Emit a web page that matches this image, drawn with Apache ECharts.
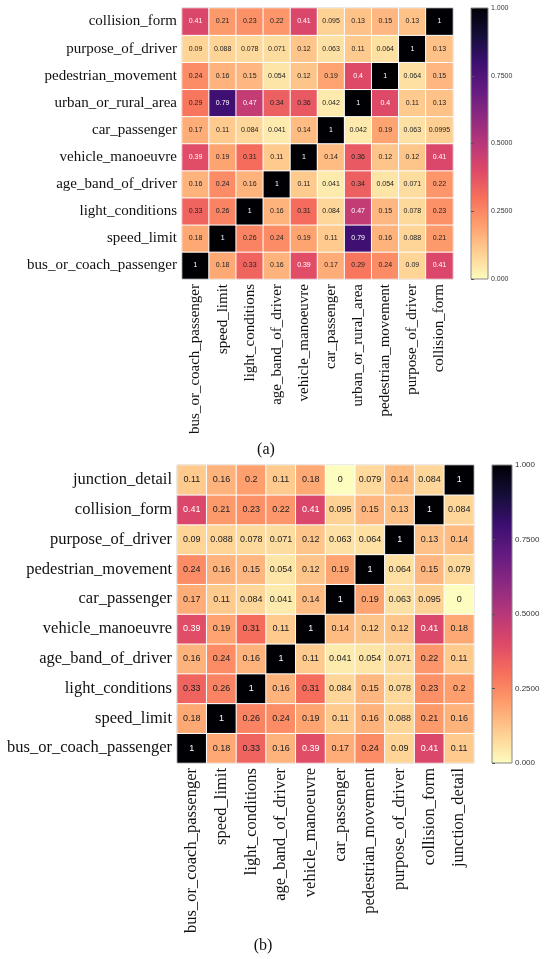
<!DOCTYPE html>
<html>
<head>
<meta charset="utf-8">
<script src="https://cdn.jsdelivr.net/npm/echarts@6/dist/echarts.min.js"></script>
<style>
  html, body { margin: 0; padding: 0; background: #fff; }
  #main { width: 550px; height: 959px; }
</style>
</head>
<body>
<div id="main"></div>
<script>
// categories, bottom row first (same order on x)
const catsA = ['bus_or_coach_passenger', 'speed_limit', 'light_conditions', 'age_band_of_driver',
  'vehicle_manoeuvre', 'car_passenger', 'urban_or_rural_area', 'pedestrian_movement',
  'purpose_of_driver', 'collision_form'];
const catsB = ['bus_or_coach_passenger', 'speed_limit', 'light_conditions', 'age_band_of_driver',
  'vehicle_manoeuvre', 'car_passenger', 'pedestrian_movement', 'purpose_of_driver',
  'collision_form', 'junction_detail'];

// correlation rows, one per y category (bottom -> top)
const rowsA = [
  [1, 0.18, 0.33, 0.16, 0.39, 0.17, 0.29, 0.24, 0.09, 0.41],
  [0.18, 1, 0.26, 0.24, 0.19, 0.11, 0.79, 0.16, 0.088, 0.21],
  [0.33, 0.26, 1, 0.16, 0.31, 0.084, 0.47, 0.15, 0.078, 0.23],
  [0.16, 0.24, 0.16, 1, 0.11, 0.041, 0.34, 0.054, 0.071, 0.22],
  [0.39, 0.19, 0.31, 0.11, 1, 0.14, 0.36, 0.12, 0.12, 0.41],
  [0.17, 0.11, 0.084, 0.041, 0.14, 1, 0.042, 0.19, 0.063, 0.0995],
  [0.29, 0.79, 0.47, 0.34, 0.36, 0.042, 1, 0.4, 0.11, 0.13],
  [0.24, 0.16, 0.15, 0.054, 0.12, 0.19, 0.4, 1, 0.064, 0.15],
  [0.09, 0.088, 0.078, 0.071, 0.12, 0.063, 0.11, 0.064, 1, 0.13],
  [0.41, 0.21, 0.23, 0.22, 0.41, 0.095, 0.13, 0.15, 0.13, 1]
];
const rowsB = [
  [1, 0.18, 0.33, 0.16, 0.39, 0.17, 0.24, 0.09, 0.41, 0.11],
  [0.18, 1, 0.26, 0.24, 0.19, 0.11, 0.16, 0.088, 0.21, 0.16],
  [0.33, 0.26, 1, 0.16, 0.31, 0.084, 0.15, 0.078, 0.23, 0.2],
  [0.16, 0.24, 0.16, 1, 0.11, 0.041, 0.054, 0.071, 0.22, 0.11],
  [0.39, 0.19, 0.31, 0.11, 1, 0.14, 0.12, 0.12, 0.41, 0.18],
  [0.17, 0.11, 0.084, 0.041, 0.14, 1, 0.19, 0.063, 0.095, 0],
  [0.24, 0.16, 0.15, 0.054, 0.12, 0.19, 1, 0.064, 0.15, 0.079],
  [0.09, 0.088, 0.078, 0.071, 0.12, 0.063, 0.064, 1, 0.13, 0.14],
  [0.41, 0.21, 0.23, 0.22, 0.41, 0.095, 0.15, 0.13, 1, 0.084],
  [0.11, 0.16, 0.2, 0.11, 0.18, 0, 0.079, 0.14, 0.084, 1]
];

const cbarTicks = ['0.000', '0.2500', '0.5000', '0.7500', '1.000'];

// magma reversed (0 -> pale yellow, 1 -> black)
const magmaR = ['#fcfdbf', '#fecf92', '#fe9f6d', '#f7705c', '#de4968', '#b73779',
  '#8c2981', '#641a80', '#3b0f70', '#140e36', '#000004'];

function toCells(rows) {
  const out = [];
  rows.forEach((row, y) => {
    row.forEach((v, x) => {
      out.push({ value: [x, y, v], label: { color: v >= 0.38 ? '#fff' : '#222' } });
    });
  });
  return out;
}

function gradient() {
  return new echarts.graphic.LinearGradient(0, 1, 0, 0,
    magmaR.map((c, i) => ({ offset: i / (magmaR.length - 1), color: c })));
}

const serif = 'Liberation Serif';

function catAxisX(idx, cats, size) {
  return {
    type: 'category', gridIndex: idx, data: cats,
    axisLine: { show: false },
    axisTick: { alignWithLabel: true, length: 4, lineStyle: { color: '#222' } },
    axisLabel: { rotate: 90, fontFamily: serif, fontSize: size, color: '#111', margin: 5 },
    splitLine: { show: false }
  };
}
function catAxisY(idx, cats, size) {
  return {
    type: 'category', gridIndex: idx, data: cats,
    axisLine: { show: false },
    axisTick: { alignWithLabel: true, length: 4, lineStyle: { color: '#222' } },
    axisLabel: { fontFamily: serif, fontSize: size, color: '#111', margin: 5 },
    splitLine: { show: false }
  };
}
function barAxisY(idx, size) {
  return {
    type: 'value', gridIndex: idx, min: 0, max: 1, interval: 0.25, position: 'right',
    axisLine: { show: false },
    axisTick: { show: true, length: 3, lineStyle: { color: '#555' } },
    axisLabel: {
      fontFamily: 'Liberation Sans', fontSize: size, color: '#333', margin: 3,
      formatter: (v) => cbarTicks[Math.round(v * 4)]
    },
    splitLine: { show: false }
  };
}

const chart = echarts.init(document.getElementById('main'));
chart.setOption({
  animation: false,
  grid: [
    { left: 182, top: 8, width: 271, height: 271, show: true, borderColor: '#333', borderWidth: 1 },
    { left: 177, top: 465, width: 297, height: 298, show: true, borderColor: '#333', borderWidth: 1 },
    { left: 471, top: 8, width: 17, height: 271, show: true, borderColor: '#888', borderWidth: 1,
      backgroundColor: gradient() },
    { left: 492, top: 465, width: 20, height: 298, show: true, borderColor: '#888', borderWidth: 1,
      backgroundColor: gradient() }
  ],
  xAxis: [
    catAxisX(0, catsA, 15),
    catAxisX(1, catsB, 16.5),
    { type: 'value', gridIndex: 2, show: false, min: 0, max: 1 },
    { type: 'value', gridIndex: 3, show: false, min: 0, max: 1 }
  ],
  yAxis: [
    catAxisY(0, catsA, 15),
    catAxisY(1, catsB, 16.5),
    barAxisY(2, 7),
    barAxisY(3, 8)
  ],
  visualMap: [
    { show: false, seriesIndex: 0, min: 0, max: 1, inRange: { color: magmaR } },
    { show: false, seriesIndex: 1, min: 0, max: 1, inRange: { color: magmaR } }
  ],
  series: [
    {
      type: 'heatmap', xAxisIndex: 0, yAxisIndex: 0, data: toCells(rowsA),
      itemStyle: { borderColor: '#fff', borderWidth: 1 },
      label: { show: true, fontFamily: 'Liberation Sans', fontSize: 7,
        formatter: (p) => String(p.value[2]) }
    },
    {
      type: 'heatmap', xAxisIndex: 1, yAxisIndex: 1, data: toCells(rowsB),
      itemStyle: { borderColor: '#fff', borderWidth: 1 },
      label: { show: true, fontFamily: 'Liberation Sans', fontSize: 9,
        formatter: (p) => String(p.value[2]) }
    }
  ],
  graphic: [
    { type: 'text', x: 266, y: 450,
      style: { text: '(a)', fontFamily: serif, fontSize: 16, fill: '#111', textAlign: 'center', textVerticalAlign: 'middle' } },
    { type: 'text', x: 263, y: 946,
      style: { text: '(b)', fontFamily: serif, fontSize: 16, fill: '#111', textAlign: 'center', textVerticalAlign: 'middle' } }
  ]
});
window.onresize = function () { chart.resize(); };
</script>
</body>
</html>
